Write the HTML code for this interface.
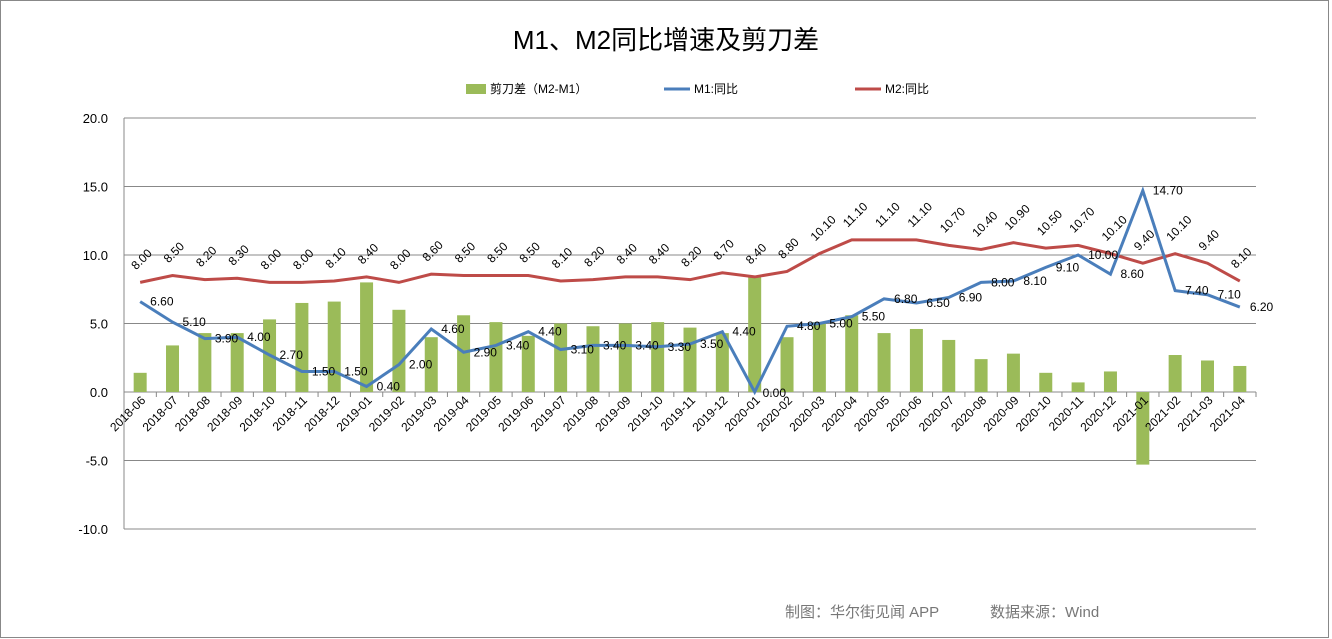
<!DOCTYPE html>
<html><head><meta charset="utf-8"><style>
body{margin:0;background:#fff;}
svg{display:block;font-family:"Liberation Sans","Noto Sans CJK SC",sans-serif;}
</style></head><body>
<svg id="s" width="1332" height="639" xmlns="http://www.w3.org/2000/svg">
<rect x="0.5" y="0.5" width="1328" height="637" fill="#fff" stroke="#888"/>
<text x="666" y="49" text-anchor="middle" font-size="26" fill="#000">M1、M2同比增速及剪刀差</text>
<rect x="466" y="84" width="20" height="10" fill="#9bbb59"/>
<text x="490" y="93" font-size="12">剪刀差（M2-M1）</text>
<line x1="664" y1="89" x2="690" y2="89" stroke="#4a7ebb" stroke-width="3"/>
<text x="694" y="93" font-size="12">M1:同比</text>
<line x1="855" y1="89" x2="881" y2="89" stroke="#be4b48" stroke-width="3"/>
<text x="885" y="93" font-size="12">M2:同比</text>
<g id="g"></g>
<text x="785" y="617" font-size="15" fill="#777">制图：华尔街见闻 APP</text>
<text x="990" y="617" font-size="15" fill="#777">数据来源：Wind</text>
</svg>
<script>
var m1=[6.6,5.1,3.9,4.0,2.7,1.5,1.5,0.4,2.0,4.6,2.9,3.4,4.4,3.1,3.4,3.4,3.3,3.5,4.4,0.0,4.8,5.0,5.5,6.8,6.5,6.9,8.0,8.1,9.1,10.0,8.6,14.7,7.4,7.1,6.2];
var m2=[8.0,8.5,8.2,8.3,8.0,8.0,8.1,8.4,8.0,8.6,8.5,8.5,8.5,8.1,8.2,8.4,8.4,8.2,8.7,8.4,8.8,10.1,11.1,11.1,11.1,10.7,10.4,10.9,10.5,10.7,10.1,9.4,10.1,9.4,8.1];
var L=124,R=1256,W=(R-L)/35;
function Y(v){return 392-v*13.7;}
function X(i){return L+W*(i+0.5);}
var grid='',bars='',labs='';
for(var v=-10;v<=20;v+=5){var y=Y(v);grid+='<line x1="'+L+'" y1="'+y+'" x2="'+R+'" y2="'+y+'" stroke="#888" stroke-width="1"/>';
grid+='<text x="108" y="'+(y+5)+'" text-anchor="end" font-size="13">'+v.toFixed(1)+'</text>';}
grid+='<line x1="'+L+'" y1="'+Y(20)+'" x2="'+L+'" y2="'+Y(-10)+'" stroke="#888"/>';
for(var i=0;i<35;i++){
 var d=+(m2[i]-m1[i]).toFixed(1),x=X(i);
 var y0=Y(0),y1=Y(d);
 bars+='<rect x="'+(x-6.5)+'" y="'+Math.min(y0,y1)+'" width="13" height="'+Math.abs(y1-y0)+'" fill="#9bbb59"/>';
 grid+='<line x1="'+(L+W*(i+1))+'" y1="392" x2="'+(L+W*(i+1))+'" y2="397" stroke="#888"/>';
 var mo=(i+5)%12+1, yr=2018+Math.floor((i+5)/12);
 var lab=yr+'-'+(mo<10?'0':'')+mo;
 labs+='<text transform="translate('+(x+6)+',401) rotate(-45)" text-anchor="end" font-size="12">'+lab+'</text>';
 labs+='<text transform="translate('+(x-4)+','+(Y(m2[i])-12)+') rotate(-45)" font-size="12">'+m2[i].toFixed(2)+'</text>';
 var lx=x+10,ly=Y(m1[i])+4;
 if(i==19){lx=x+8;ly=Y(0)+5;}
 labs+='<text x="'+lx+'" y="'+ly+'" font-size="12">'+m1[i].toFixed(2)+'</text>';
}
var p1='',p2='';
for(var i=0;i<35;i++){p1+=(i?'L':'M')+X(i)+','+Y(m1[i]);p2+=(i?'L':'M')+X(i)+','+Y(m2[i]);}
var h=grid+bars;
h+='<path d="'+p2+'" fill="none" stroke="#be4b48" stroke-width="3"/>';
h+='<path d="'+p1+'" fill="none" stroke="#4a7ebb" stroke-width="3"/>';
h+=labs;
document.getElementById('g').innerHTML=h;
</script>
</body></html>
